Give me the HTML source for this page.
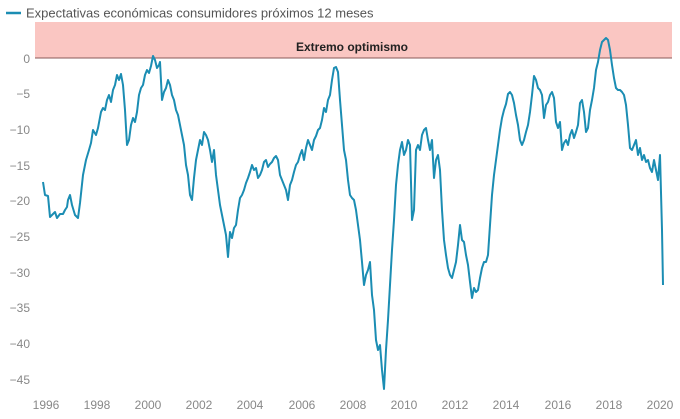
<!DOCTYPE html>
<html><head><meta charset="utf-8"><style>
html,body{margin:0;padding:0;background:#fff;width:680px;height:419px;overflow:hidden}
svg{display:block;font-family:"Liberation Sans",sans-serif}
</style></head><body>
<svg width="680" height="419" viewBox="0 0 680 419">
<line x1="6" y1="13" x2="21" y2="13" stroke="#1b8db3" stroke-width="2.5"/>
<text x="26" y="17.5" font-size="13" fill="#555">Expectativas económicas consumidores próximos 12 meses</text>
<rect x="35" y="22" width="637" height="36" fill="#fac6c2"/>
<line x1="35" y1="58" x2="672" y2="58" stroke="#8a5a58" stroke-width="1"/>
<text x="352" y="51" font-size="12" font-weight="bold" fill="#222" text-anchor="middle">Extremo optimismo</text>
<g font-size="12" fill="#888" text-anchor="end">
<text x="30" y="63">0</text><text x="30" y="98">−5</text><text x="30" y="134">−10</text><text x="30" y="170">−15</text><text x="30" y="205">−20</text><text x="30" y="241">−25</text><text x="30" y="277">−30</text><text x="30" y="312">−35</text><text x="30" y="348">−40</text><text x="30" y="384">−45</text>
</g>
<g font-size="12" fill="#888" text-anchor="middle">
<text x="46" y="409">1996</text><text x="97" y="409">1998</text><text x="148" y="409">2000</text><text x="199" y="409">2002</text><text x="250" y="409">2004</text><text x="302" y="409">2006</text><text x="353" y="409">2008</text><text x="404" y="409">2010</text><text x="455" y="409">2012</text><text x="506" y="409">2014</text><text x="558" y="409">2016</text><text x="609" y="409">2018</text><text x="660" y="409">2020</text>
</g>
<polyline fill="none" stroke="#1b8db3" stroke-width="2" stroke-linejoin="round" points="43,182 45,195 48,196 50,217 52,215 55,212 57,218 60,214 63,214 65,210 67,207 68,200 70,195 72,205 75,215 78,218 80,203 83,175 86,160 89,150 91,143 93,130 96,135 98,128 101,112 103,108 105,110 107,100 109,95 111,102 113,90 115,85 117,75 119,80 121,74 123,85 125,110 127,145 129,140 131,125 133,118 135,122 137,112 139,95 141,88 143,85 145,75 147,70 149,73 151,66 153,56 155,60 157,68 159,65 160,62 162,100 164,92 166,88 168,80 170,85 172,95 174,100 176,110 178,115 180,125 182,135 184,145 186,165 188,175 190,195 192,200 194,178 196,160 198,150 200,140 202,145 204,132 206,135 208,140 210,150 212,162 214,150 216,175 218,190 220,205 222,215 224,225 226,235 228,257 230,232 232,238 234,228 236,225 238,210 240,198 242,195 244,190 246,183 248,178 250,172 252,165 254,170 256,168 258,178 260,175 262,170 264,162 266,160 268,167 270,164 272,162 274,158 276,156 278,160 280,175 282,180 284,185 286,190 288,200 290,185 292,180 294,172 296,165 298,162 300,155 302,150 304,160 306,148 308,140 310,145 312,150 314,140 316,136 318,130 320,128 322,120 324,108 326,112 328,100 330,95 332,80 334,68 336,67 338,72 340,100 342,125 344,150 346,160 348,180 350,195 352,198 354,200 356,210 358,225 360,240 362,262 364,285 366,275 368,270 370,262 372,295 374,310 376,340 378,350 380,345 382,370 384,389 386,350 388,320 390,285 392,250 394,220 396,185 398,165 400,150 402,142 404,155 406,150 408,140 410,145 412,220 414,210 416,150 418,145 420,150 422,135 424,130 426,128 428,140 430,150 432,140 434,178 436,160 438,155 440,170 442,210 444,240 446,255 448,268 450,275 452,278 454,270 456,262 458,245 460,225 462,240 464,242 466,255 468,265 470,282 472,298 474,288 476,292 478,290 480,278 482,268 484,262 486,262 488,255 490,225 492,195 494,175 496,160 498,145 500,130 502,118 504,110 506,104 508,94 510,92 512,95 514,103 516,115 518,125 520,140 522,145 524,140 526,132 528,125 530,112 532,95 534,76 536,80 538,88 540,90 542,95 544,118 546,105 548,102 550,95 552,92 554,98 556,122 558,128 560,122 562,150 564,143 566,140 568,145 570,135 572,130 574,138 576,132 578,125 580,103 582,100 584,112 586,132 588,128 590,110 592,100 594,88 596,70 598,62 600,50 602,42 604,40 606,38 608,40 610,50 612,65 614,78 616,88 618,90 620,90 622,92 624,95 626,105 628,125 630,148 632,150 634,145 636,140 638,155 640,148 642,160 644,155 646,162 648,160 650,168 652,172 654,160 656,170 658,180 660,155 662,230 663,285"/>
</svg>
</body></html>
